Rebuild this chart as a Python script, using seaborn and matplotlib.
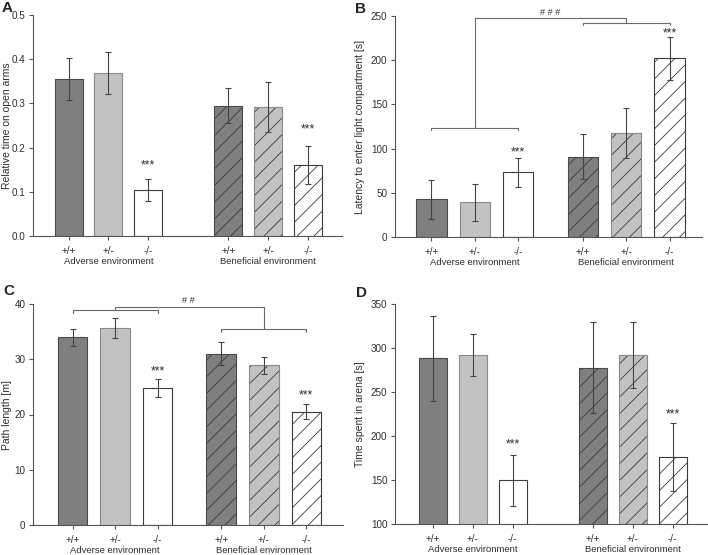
import matplotlib
matplotlib.use("Agg")
import matplotlib.pyplot as plt
import matplotlib.transforms as mtransforms
import matplotlib.colors as mcolors
import numpy as np
import pandas as pd
import seaborn as sns

# ---------------- data ----------------
genotypes = ["+/+", "+/-", "-/-"]
environments = ["Adverse environment", "Beneficial environment"]

a_mean = [0.355, 0.369, 0.105, 0.295, 0.292, 0.160]
a_err = [0.048, 0.047, 0.025, 0.040, 0.056, 0.043]
b_mean = [42.6, 39.2, 73.2, 90.9, 117.3, 202.1]
b_err = [22.1, 20.9, 16.4, 25.6, 28.3, 24.1]
c_mean = [34.0, 35.65, 24.8, 31.0, 28.9, 20.5]
c_err = [1.55, 1.8, 1.7, 2.05, 1.5, 1.4]
d_mean = [288.3, 292.0, 149.6, 277.3, 292.0, 176.1]
d_err = [48.3, 23.8, 29.0, 51.7, 38.0, 38.2]

a_stars_y = [0.159, 0.241]
b_stars_y = [95.4, 230.4]
c_stars_y = [27.8, 23.4]
d_stars_y = [190.9, 224.0]

ylabels = ["Relative time on open arms",
           "Latency to enter light compartment [s]",
           "Path length [m]",
           "Time spent in arena [s]"]

# ---------------- style ----------------
sns.set_style("ticks")
plt.rcParams["font.family"] = ["Liberation Sans", "DejaVu Sans"]
plt.rcParams["hatch.linewidth"] = 0.6
plt.rcParams["hatch.color"] = "#454545"

fill = {"+/+": "#7f7f7f", "+/-": "#c2c2c2", "-/-": "#ffffff"}
edge = {"+/+": "#4a4a4a", "+/-": "#8a8a8a", "-/-": "#3c3c3c"}
hatchcol = mcolors.to_rgba("#3a3a3a")
axcol = "#555555"
txtcol = "#2e2e2e"

fig = plt.figure(figsize=(7.08, 5.55), dpi=100)

panels = [
    (a_mean, a_err, a_stars_y, (0, 0.5), np.arange(0, 0.51, 0.1), "{:.1f}", 4.0,
     (-0.89, 6.85), [33 / 708, 1 - 236 / 555, (342 - 33) / 708, (236 - 15) / 555], "A"),
    (b_mean, b_err, b_stars_y, (0, 250), np.arange(0, 251, 50), "{:.0f}", 3.5,
     (-0.84, 6.25), [395 / 708, 1 - 237 / 555, (702 - 395) / 708, (237 - 16) / 555], "B"),
    (c_mean, c_err, c_stars_y, (0, 40), np.arange(0, 41, 10), "{:.0f}", 3.5,
     (-0.93, 6.36), [33 / 708, 1 - 525 / 555, (343 - 33) / 708, (525 - 304) / 555], "C"),
    (d_mean, d_err, d_stars_y, (100, 350), np.arange(100, 351, 50), "{:.0f}", 4.0,
     (-0.94, 6.86), [395 / 708, 1 - 524 / 555, (707 - 395) / 708, (524 - 304) / 555], "D"),
]
letter_xy = [(2, 1), (355, 2), (3, 284), (356, 286)]

axes = []
for idx, (mean, err, stars, ylim, yticks, fmt, goff, xlim, rect, letter) in enumerate(panels):
    ax = fig.add_axes(rect)
    axes.append(ax)
    pos = [g * goff + i for g in range(2) for i in range(3)]
    df = pd.DataFrame({
        "pos": pos,
        "val": mean,
        "genotype": genotypes * 2,
        "env": [environments[0]] * 3 + [environments[1]] * 3,
    })
    sns.barplot(data=df, x="pos", y="val", hue="genotype", palette=fill,
                hue_order=genotypes, native_scale=True, dodge=False, width=0.7,
                errorbar=None, legend=False, ax=ax, linewidth=0.8, zorder=2)
    for p in ax.patches:
        cx = p.get_x() + p.get_width() / 2
        k = int(np.argmin([abs(cx - q) for q in pos]))
        g = genotypes[k % 3]
        p.set_edgecolor(edge[g])
        p.set_linewidth(0.8)
        if k >= 3:
            p.set_hatch("//")
            p._hatch_color = hatchcol
    ax.errorbar(pos, mean, yerr=err, fmt="none", ecolor="#444444",
                elinewidth=0.8, capsize=2.0, capthick=0.8, zorder=4)
    for j, sy in zip([2, 5], stars):
        ax.text(pos[j], sy, "***", ha="center", va="center", fontsize=8.8,
                color=txtcol, zorder=5)
    ax.set_xlim(*xlim)
    ax.set_ylim(*ylim)
    ax.set_yticks(yticks)
    ax.set_yticklabels([fmt.format(v) for v in yticks])
    ax.set_xticks(pos)
    ax.set_xticklabels(genotypes * 2)
    ax.set_xlabel("")
    ax.set_ylabel("")
    sns.despine(ax=ax)
    for s in ["left", "bottom"]:
        ax.spines[s].set_color(axcol)
        ax.spines[s].set_linewidth(0.8)
    ax.tick_params(axis="both", labelsize=7.1, colors=axcol, labelcolor=txtcol,
                   length=3, width=0.8, pad=2.5)
    ax.tick_params(axis="x", pad=4.5)
    trans = mtransforms.blended_transform_factory(ax.transData, ax.transAxes)
    for g in range(2):
        cx = np.mean(pos[g * 3:(g + 1) * 3])
        ax.text(cx, -0.096, environments[g], transform=trans, ha="center",
                va="top", fontsize=6.8, color=txtcol)
    ylab_x = (7 if idx % 2 == 0 else 360) / 708
    fig.text(ylab_x, rect[1] + rect[3] / 2, ylabels[idx], rotation=90,
             ha="center", va="center", fontsize=7.5, color=txtcol)
    lx, ly = letter_xy[idx]
    fig.text(lx / 708, 1 - ly / 555, letter, fontsize=11, fontweight="bold",
             ha="left", va="top")

# ---------------- brackets ----------------
bc = "#6a6a6a"
lw = 0.8
axb = axes[1]
tb = 3.0
axb.plot([0, 0, 2, 2], [123.7 - tb, 123.7, 123.7, 123.7 - tb], color=bc, lw=lw, clip_on=False)
axb.plot([1, 1, 4.5, 4.5], [123.7, 247.4, 247.4, 242.5], color=bc, lw=lw, clip_on=False)
axb.plot([3.5, 3.5, 5.5, 5.5], [242.5 - tb, 242.5, 242.5, 242.5 - tb], color=bc, lw=lw, clip_on=False)
axb.text(2.75, 254.5, "# # #", ha="center", va="center", fontsize=6.6, color=txtcol)

axc = axes[2]
tc = 0.5
axc.plot([0, 0, 2, 2], [38.85 - tc, 38.85, 38.85, 38.85 - tc], color=bc, lw=lw, clip_on=False)
axc.plot([1, 1, 4.5, 4.5], [38.85, 39.5, 39.5, 35.4], color=bc, lw=lw, clip_on=False)
axc.plot([3.5, 3.5, 5.5, 5.5], [35.4 - tc, 35.4, 35.4, 35.4 - tc], color=bc, lw=lw, clip_on=False)
axc.text(2.72, 40.55, "# #", ha="center", va="center", fontsize=6.6, color=txtcol)

fig.savefig("out.png", dpi=100)
